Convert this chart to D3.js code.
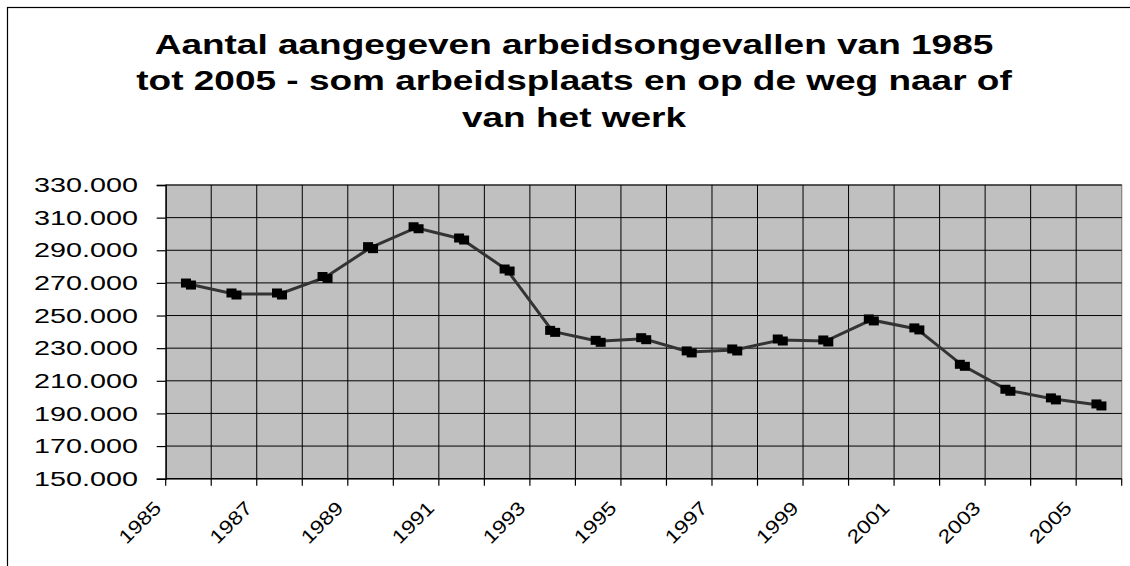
<!DOCTYPE html>
<html>
<head>
  <script src="https://d3js.org/d3.v7.min.js"></script>
  <style>
    body { margin: 0; background: #ffffff; }
    text { font-family: "Liberation Sans", Arial, sans-serif; fill: #000; }
  </style>
</head>
<body>
  <div id="chart"></div>
  <script>
    // data
    var years = [1985, 1986, 1987, 1988, 1989, 1990, 1991, 1992, 1993, 1994, 1995,
                 1996, 1997, 1998, 1999, 2000, 2001, 2002, 2003, 2004, 2005];
    var accidents = [269300, 263200, 263200, 273300, 291600, 303800, 296900, 277900, 240300, 234200, 235800,
                     227700, 228900, 235000, 234400, 247300, 241800, 219500, 204200, 198900, 195200];
    var yTicks = [150000, 170000, 190000, 210000, 230000, 250000, 270000, 290000, 310000, 330000];
    var titleLines = ["Aantal aangegeven arbeidsongevallen van 1985",
                      "tot 2005 - som arbeidsplaats en op de weg naar of",
                      "van het werk"];

    var W = 1130, H = 566;
    var plot = { left: 165.7, right: 1121.7, top: 185, bottom: 478.7 };
    var stretch = 1.37; // the picture's text is wide

    var svg = d3.select("#chart").append("svg")
      .attr("width", W)
      .attr("height", H);

    // chart area border (runs off the right and bottom)
    svg.append("rect")
      .attr("x", 7.5).attr("y", 7.5)
      .attr("width", W).attr("height", H)
      .attr("fill", "#fff")
      .attr("stroke", "#000")
      .attr("stroke-width", 1.2);

    // title
    svg.append("g").selectAll("text")
      .data(titleLines)
      .join("text")
      .attr("text-anchor", "middle")
      .attr("transform", (d, i) => "translate(574," + (53.5 + i * 36.6) + ") scale(" + stretch + ",1)")
      .style("font-size", "27px")
      .style("font-weight", "bold")
      .text(d => d);

    var x = d3.scaleBand()
      .domain(years)
      .range([plot.left, plot.right])
      .padding(0);

    var y = d3.scaleLinear()
      .domain([150000, 330000])
      .range([plot.bottom, plot.top]);

    var nl = d3.formatLocale({ decimal: ",", thousands: ".", grouping: [3], currency: ["", ""] });
    var fmt = nl.format(",");

    // plot area
    svg.append("rect")
      .attr("x", plot.left).attr("y", plot.top)
      .attr("width", plot.right - plot.left)
      .attr("height", plot.bottom - plot.top)
      .attr("fill", "#c0c0c0")
      .attr("stroke", "#808080")
      .attr("stroke-width", 1.2);

    // boundaries between categories
    var bounds = years.map(d => x(d)).concat([plot.right]);

    // vertical grid lines
    svg.append("g").selectAll("line")
      .data(bounds.slice(1, -1))
      .join("line")
      .attr("x1", d => d).attr("x2", d => d)
      .attr("y1", plot.top).attr("y2", plot.bottom)
      .attr("stroke", "#000")
      .attr("stroke-width", 1);

    // horizontal grid lines
    svg.append("g").selectAll("line")
      .data(yTicks.slice(1))
      .join("line")
      .attr("x1", plot.left).attr("x2", plot.right)
      .attr("y1", d => y(d)).attr("y2", d => y(d))
      .attr("stroke", "#000")
      .attr("stroke-width", 1);

    // y axis
    var yAxis = svg.append("g")
      .attr("transform", "translate(" + plot.left + ",0)")
      .call(d3.axisLeft(y).tickValues(yTicks).tickFormat(fmt).tickSize(9));
    yAxis.select(".domain").attr("stroke", "#000").attr("stroke-width", 1.4);
    yAxis.selectAll(".tick line").attr("stroke", "#000").attr("stroke-width", 1.2);
    yAxis.selectAll(".tick text")
      .attr("x", -27.7 / stretch)
      .attr("transform", "scale(" + stretch + ",1)")
      .style("font-size", "21px")
      .style("font-family", "'Liberation Sans', Arial, sans-serif")
      .attr("fill", "#000");

    // x axis line and ticks at category boundaries
    svg.append("line")
      .attr("x1", plot.left).attr("x2", plot.right)
      .attr("y1", plot.bottom).attr("y2", plot.bottom)
      .attr("stroke", "#000")
      .attr("stroke-width", 1.4);
    svg.append("g").selectAll("line")
      .data(bounds)
      .join("line")
      .attr("x1", d => d).attr("x2", d => d)
      .attr("y1", plot.bottom).attr("y2", plot.bottom + 7)
      .attr("stroke", "#000")
      .attr("stroke-width", 1.2);

    // x labels, every other year, rotated
    svg.append("g").selectAll("text")
      .data(years.filter((d, i) => i % 2 == 0))
      .join("text")
      .attr("text-anchor", "end")
      .attr("transform", d => "translate(" + (x(d) - 3.3) + "," + (plot.bottom + 30.5) + ") rotate(-45) scale(1.2,1)")
      .style("font-size", "19px")
      .text(d => d);

    // line
    var pts = years.map((d, i) => [x(d) + x.bandwidth() / 2, y(accidents[i])]);
    svg.append("path")
      .attr("d", d3.line()(pts))
      .attr("fill", "none")
      .attr("stroke", "#333333")
      .attr("stroke-width", 3);

    // markers (two overlapping squares, as in the picture)
    var mk = svg.append("g").selectAll("g")
      .data(pts)
      .join("g")
      .attr("transform", d => "translate(" + d[0] + "," + d[1] + ")");
    mk.append("rect")
      .attr("x", -7.5).attr("y", -5.5)
      .attr("width", 10).attr("height", 9)
      .attr("fill", "#000");
    mk.append("rect")
      .attr("x", -2.5).attr("y", -3.5)
      .attr("width", 10).attr("height", 9)
      .attr("fill", "#000");
  </script>
</body>
</html>
